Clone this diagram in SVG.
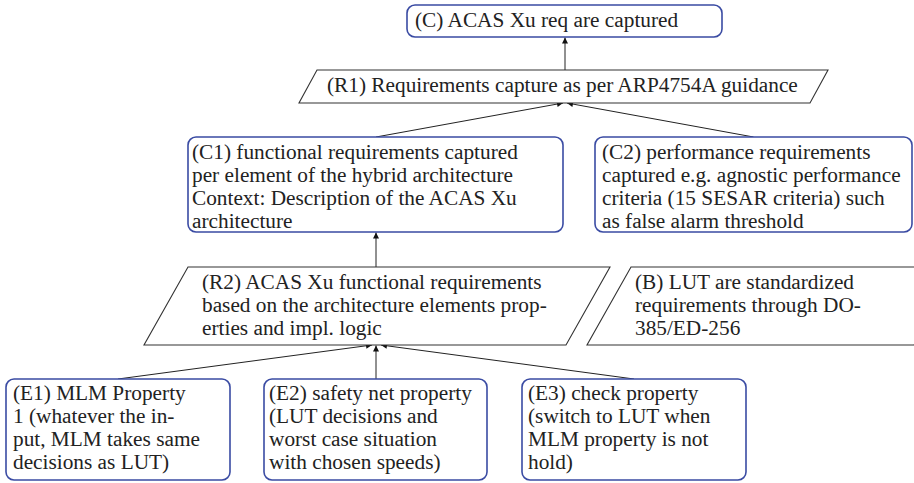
<svg xmlns="http://www.w3.org/2000/svg" width="914" height="483" viewBox="0 0 914 483">
<defs>
<style>
.box{fill:#fff;stroke:#3a4ba3;stroke-width:1.6}
.para{fill:#fff;stroke:#333;stroke-width:1.1}
text{font-family:'Liberation Serif','Times New Roman',serif;font-size:21.3px;fill:#222}
.c{stroke:#222;stroke-width:1;fill:none;marker-end:url(#ah)}
</style>
<marker id="ah" viewBox="0 0 10 10" refX="10" refY="5" markerWidth="7" markerHeight="6" markerUnits="userSpaceOnUse" orient="auto">
<path d="M0,0 L10,5 L0,10 Z" fill="#111"/>
</marker>
</defs>
<rect width="914" height="483" fill="#fff"/>
<g id="connectors">
<line class="c" x1="565" y1="70" x2="565" y2="37.5"/>
<line class="c" x1="376" y1="137" x2="563" y2="103"/>
<line class="c" x1="753.5" y1="137" x2="567" y2="103"/>
<line class="c" x1="376" y1="267" x2="376" y2="232.5"/>
<line class="c" x1="118" y1="379" x2="372" y2="345"/>
<line class="c" x1="376" y1="379" x2="376" y2="345.5"/>
<line class="c" x1="634" y1="379" x2="381" y2="345"/>
</g>
<g id="C">
<rect class="box" x="407" y="5" width="315" height="32" rx="8"/>
<text x="415" y="27">(C) ACAS Xu req are captured</text>
</g>
<g id="R1">
<polygon class="para" points="317,70 828,70 810,103 299,103"/>
<text x="327" y="92">(R1) Requirements capture as per ARP4754A guidance</text>
</g>
<g id="C1">
<rect class="box" x="188" y="137" width="375" height="95" rx="8"/>
<text><tspan x="192" y="159">(C1) functional requirements captured</tspan><tspan x="192" y="182">per element of the hybrid architecture</tspan><tspan x="192" y="205">Context: Description of the ACAS Xu</tspan><tspan x="192" y="228">architecture</tspan></text>
</g>
<g id="C2">
<rect class="box" x="595" y="137" width="317" height="95" rx="8"/>
<text><tspan x="602" y="159">(C2) performance requirements</tspan><tspan x="602" y="182">captured e.g. agnostic performance</tspan><tspan x="602" y="205">criteria (15 SESAR criteria) such</tspan><tspan x="602" y="228">as false alarm threshold</tspan></text>
</g>
<g id="R2">
<polygon class="para" points="188,267 610,267 566,345 144,345"/>
<text><tspan x="202" y="289">(R2) ACAS Xu functional requirements</tspan><tspan x="202" y="312">based on the architecture elements prop-</tspan><tspan x="202" y="335">erties and impl. logic</tspan></text>
</g>
<g id="B">
<polygon class="para" points="631,267 958,267 914,345 587,345"/>
<text><tspan x="635" y="289">(B) LUT are standardized</tspan><tspan x="635" y="312">requirements through DO-</tspan><tspan x="635" y="335">385/ED-256</tspan></text>
</g>
<g id="E1">
<rect class="box" x="6" y="379" width="224" height="101" rx="8"/>
<text><tspan x="13" y="400">(E1) MLM Property</tspan><tspan x="13" y="423">1 (whatever the in-</tspan><tspan x="13" y="446">put, MLM takes same</tspan><tspan x="13" y="469">decisions as LUT)</tspan></text>
</g>
<g id="E2">
<rect class="box" x="264" y="379" width="223" height="101" rx="8"/>
<text><tspan x="269" y="400">(E2) safety net property</tspan><tspan x="269" y="423">(LUT decisions and</tspan><tspan x="269" y="446">worst case situation</tspan><tspan x="269" y="469">with chosen speeds)</tspan></text>
</g>
<g id="E3">
<rect class="box" x="522" y="379" width="224" height="101" rx="8"/>
<text><tspan x="528" y="400">(E3) check property</tspan><tspan x="528" y="423">(switch to LUT when</tspan><tspan x="528" y="446">MLM property is not</tspan><tspan x="528" y="469">hold)</tspan></text>
</g>
</svg>
